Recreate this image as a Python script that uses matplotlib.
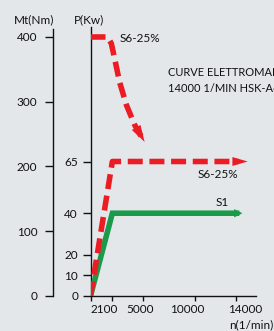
import matplotlib
matplotlib.use("Agg")
import matplotlib.pyplot as plt
from matplotlib.transforms import ScaledTranslation

# ---- data ----
n_power = [0, 2100, 15100]
p_s6 = [0, 65, 65]
n_s1 = [0, 2100, 14600]
p_s1 = [0, 40, 40]
n_torque = [0, 1650, 2000, 2300, 2800, 3450, 4250, 5200]
mt_s6 = [400, 400, 390, 368, 330, 295, 264, 238]

x_ticks = [0, 2100, 5000, 10000, 14000]
x_labels = ["", "2100", "5000", "10000", "14000"]
p_ticks = [0, 10, 20, 40, 65]
mt_ticks = [0, 100, 200, 300, 400]

BG = "#e4e7ea"
RED = "#ec1c24"
GREEN = "#1a9b4b"
INK = "#111111"
FONT = "Lato"

W, H = 274, 331
fig = plt.figure(figsize=(W / 100, H / 100), dpi=100, facecolor=BG)
plt.rcParams['font.family'] = [FONT, 'DejaVu Sans']

left, right, bottom, top = 90.5, 256, 296, 27
ax = fig.add_axes([left / W, 1 - bottom / H, (right - left) / W, (bottom - top) / H])
ax.set_facecolor("none")
ax.set_xlim(0, 15900)
ax.set_ylim(0, 130)

axt = ax.twinx()
axt.set_ylim(0, 415.4)
axt.set_facecolor("none")

for a in (ax, axt):
    for s in ("top", "right"):
        a.spines[s].set_visible(False)
axt.spines["bottom"].set_visible(False)
axt.spines["left"].set_visible(True)
axt.spines["left"].set_position(("outward", 38 * 0.72))
axt.spines["left"].set_bounds(0, 412)
axt.yaxis.tick_left()

for sp in list(ax.spines.values()) + [axt.spines["left"]]:
    sp.set_linewidth(1.0)
    sp.set_color(INK)

ax.set_xticks(x_ticks)
ax.set_xticklabels(x_labels)
ax.set_yticks(p_ticks)
axt.set_yticks(mt_ticks)
ax.tick_params(axis="x", length=3.5, width=1, pad=2, labelsize=8.5, colors=INK)
ax.tick_params(axis="y", length=5.5, width=1, pad=3.5, labelsize=8.5, colors=INK)
axt.tick_params(axis="y", length=5.5, width=1, pad=5.5, labelsize=8.5, colors=INK,
                left=True, right=False, labelleft=True, labelright=False)

# hand-placed look of the x labels in the original
x_label_shift_px = [0, -8, -2, -7, 9]
for lab, dx in zip(ax.get_xticklabels(), x_label_shift_px):
    lab.set_transform(lab.get_transform() + ScaledTranslation(dx / 100, 0, fig.dpi_scale_trans))

lw = 4.0
dash = (2.7, 1.2)


def head(a, xs, ys, color, hl, hw, z):
    x1, y1 = xs[-1], ys[-1]
    x0, y0 = xs[-2], ys[-2]
    t = 0.02
    a.annotate("", xy=(x1, y1), xytext=(x1 - (x1 - x0) * t, y1 - (y1 - y0) * t),
               arrowprops=dict(arrowstyle=f"-|>,head_length={hl},head_width={hw}",
                               mutation_scale=10, color=color, lw=0,
                               shrinkA=0, shrinkB=0), zorder=z)


# S1 power
ax.plot(n_s1[:-1] + [n_s1[-1] - 300], p_s1, color=GREEN, lw=lw,
        solid_joinstyle="miter", solid_capstyle="butt", zorder=3)
head(ax, n_s1, p_s1, GREEN, 0.6, 0.3, 3)

# S6 power
ax.plot(n_power[:-1] + [n_power[-1] - 900], p_s6, color=RED, lw=lw, ls=(0, dash),
        dash_joinstyle="round", dash_capstyle="butt", zorder=4)
head(ax, n_power, p_s6, RED, 1.1, 0.32, 4)

# S6 torque
axt.plot(n_torque[:-1] + [n_torque[-1] - 350], mt_s6[:-1] + [mt_s6[-1] + 9], color=RED, lw=lw,
         ls=(0, dash), dash_joinstyle="round", dash_capstyle="butt", zorder=4)
head(axt, n_torque, mt_s6, RED, 1.2, 0.36, 4)


def ftext(x, y, s, ha="left", size=8.5):
    fig.text(x / W, 1 - y / H, s, ha=ha, va="center", fontsize=size, color=INK)


ftext(34.5, 20, "Mt(Nm)", ha="center")
ftext(89, 20, "P(Kw)", ha="center")
ftext(120, 39, "S6-25%")
ftext(168, 72, "CURVE ELETTROMANDRINO", size=8)
ftext(168, 88, "14000 1/MIN HSK-A63", size=8)
ftext(238, 175, "S6-25%", ha="right")
ftext(222, 203, "S1", ha="center")
ftext(229, 325, "n(1/min)")

fig.savefig("out.png", dpi=100, facecolor=BG)
